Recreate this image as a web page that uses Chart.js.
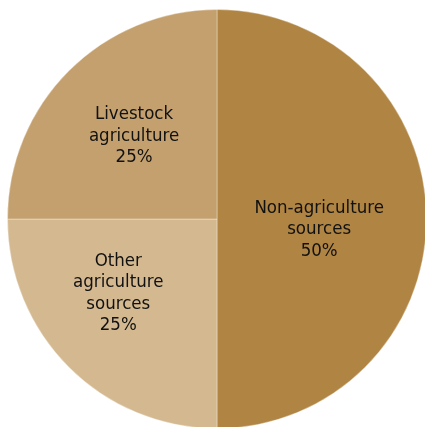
<!DOCTYPE html>
<html>
<head>
<meta charset="utf-8">
<script src="https://cdn.jsdelivr.net/npm/chart.js@4"></script>
<style>
  html, body { margin: 0; padding: 0; background: #fff; overflow: hidden; }
  #wrap { width: 440px; height: 440px; }
</style>
</head>
<body>
<div id="wrap"><canvas id="pieChart"></canvas></div>
<script>
// === Data ===
const categories = [
  ['Non-agriculture', 'sources'],
  ['Other', 'agriculture', 'sources'],
  ['Livestock', 'agriculture']
];
const shares = [50, 25, 25];
const sliceColors = ['#b08442', '#d4b990', '#c4a06e'];

// label anchor per slice: [angle offset from slice middle (rad), distance as fraction of radius]
const labelAnchors = [[0.1, 0.49], [0.14, 0.59], [0, 0.56]];

// === Slice labels ===
const sliceLabels = {
  id: 'sliceLabels',
  afterDatasetsDraw(chart) {
    const ctx = chart.ctx;
    const arcs = chart.getDatasetMeta(0).data;
    ctx.save();
    ctx.fillStyle = '#111';
    ctx.font = "18.5px 'DejaVu Sans Condensed', 'DejaVu Sans', sans-serif";
    ctx.textAlign = 'center';
    ctx.textBaseline = 'middle';
    arcs.forEach((arc, i) => {
      const p = arc.getProps(['x', 'y', 'startAngle', 'endAngle', 'outerRadius'], true);
      const mid = (p.startAngle + p.endAngle) / 2 + labelAnchors[i][0];
      const r = p.outerRadius * labelAnchors[i][1];
      const cx = p.x + Math.cos(mid) * r;
      const cy = p.y + Math.sin(mid) * r;
      const lines = categories[i].concat([shares[i] + '%']);
      const lh = 21.5;
      lines.forEach((line, j) => {
        ctx.fillText(line, cx, cy + (j - (lines.length - 1) / 2) * lh);
      });
    });
    ctx.restore();
  }
};

const ctx = document.getElementById('pieChart').getContext('2d');
new Chart(ctx, {
  type: 'pie',
  data: {
    labels: categories.map(c => c.join(' ')),
    datasets: [{
      data: shares,
      backgroundColor: sliceColors,
      borderColor: 'rgba(255,255,255,0.35)',
      borderWidth: 1
    }]
  },
  options: {
    responsive: true,
    maintainAspectRatio: false,
    animation: false,
    layout: { padding: { left: 7, top: 9, right: 13, bottom: 11 } },
    plugins: {
      legend: { display: false },
      tooltip: { enabled: false }
    }
  },
  plugins: [sliceLabels]
});
</script>
</body>
</html>
